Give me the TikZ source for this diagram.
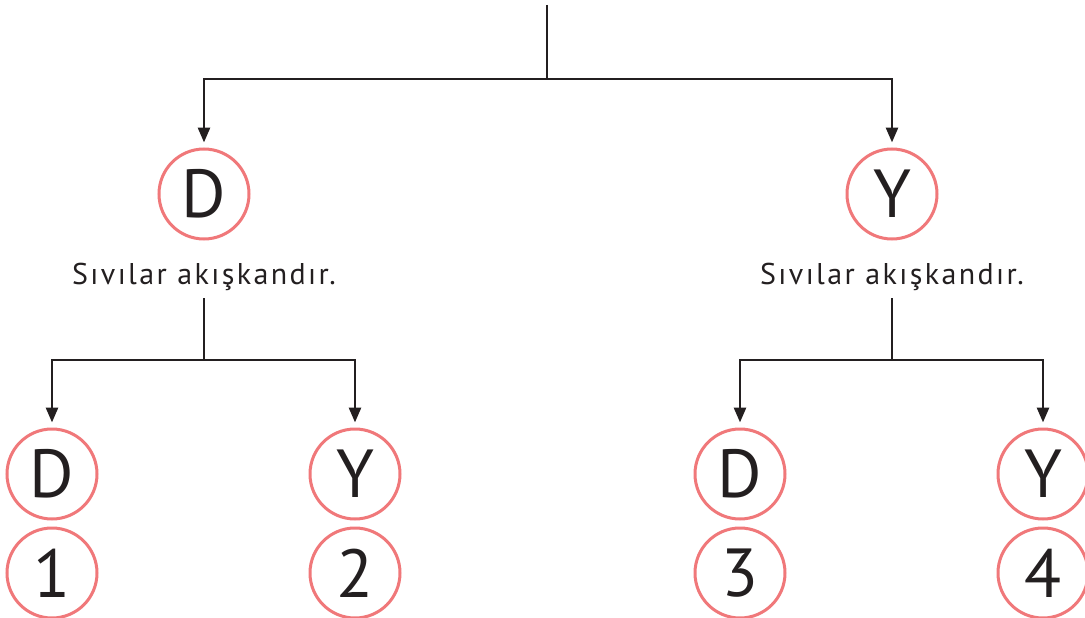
\documentclass[tikz,border=0pt]{standalone}
\usepackage{fontspec}
\setmainfont{PT Sans}
\usepackage{tikz}
\usetikzlibrary{arrows.meta,positioning}
\definecolor{ringred}{RGB}{240,120,122}
\definecolor{inkgray}{RGB}{35,31,32}

\begin{document}
\begin{tikzpicture}[
    x=1pt, y=-1pt,
    >={Triangle[length=15pt,width=12pt]},
    answer/.style={
      circle, draw=ringred, line width=3pt,
      minimum size=90pt, inner sep=0pt,
      font=\fontsize{68}{68}\selectfont, text=inkgray
    },
    statement/.style={
      anchor=base, inner sep=0pt,
      font=\fontsize{30}{30}\selectfont\addfontfeature{LetterSpace=8},
      text=inkgray
    },
    link/.style={line width=2.8pt, draw=inkgray},
    arr/.style={->, link, shorten >=5pt}
  ]
  \useasboundingbox (0,0) rectangle (1085,618);

  % First question
  \coordinate (start) at (547,5);
  \coordinate (fork0) at (547,79);
  \node[answer] (d) at (204,194) {D};
  \node[answer] (y) at (892,194) {Y};

  \draw[link] (start) -- (fork0);
  \draw[arr] (fork0) -| (d);
  \draw[arr] (fork0) -| (y);

  % Second question
  \node[statement] (qd) at (204,284) {Sıvılar akışkandır.};
  \node[statement] (qy) at (892,284) {Sıvılar akışkandır.};
  \coordinate (forkd) at (204,360);
  \coordinate (forky) at (892,360);

  \node[answer] (dd) at (52,474) {D};
  \node[answer] (dy) at (355,474) {Y};
  \node[answer] (yd) at (740,474) {D};
  \node[answer] (yy) at (1043,474) {Y};

  \draw[link, shorten <=8pt] (qd.south) -- (forkd);
  \draw[link, shorten <=8pt] (qy.south) -- (forky);
  \draw[arr] (forkd) -| (dd);
  \draw[arr] (forkd) -| (dy);
  \draw[arr] (forky) -| (yd);
  \draw[arr] (forky) -| (yy);

  % Path numbers
  \node[answer, below=6pt of dd] (n1) {1};
  \node[answer, below=6pt of dy] (n2) {2};
  \node[answer, below=6pt of yd] (n3) {3};
  \node[answer, below=6pt of yy] (n4) {4};
\end{tikzpicture}
\end{document}
